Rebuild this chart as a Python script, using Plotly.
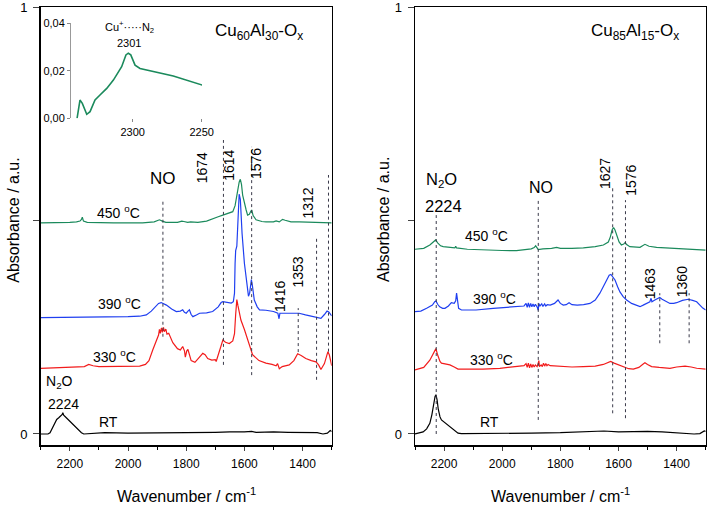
import plotly.graph_objects as go

# ---------------- data: left panel (Cu60Al30-Ox) ----------------
L_rt_x = [2300, 2275, 2268, 2255, 2245, 2238, 2230, 2226, 2224, 2221, 2212, 2195, 2175, 2160, 2152, 2100, 2080, 2000,
          1900, 1800, 1700, 1660, 1650, 1600, 1575, 1560, 1500, 1450, 1400, 1350, 1330, 1315, 1305, 1300]
L_rt_y = [0, 0, 0.003, 0.02, 0.034, 0.038, 0.042, 0.046, 0.05, 0.044, 0.038, 0.026, 0.012, 0.003, 0.0, 0.002, 0.003,
          0.002, 0.002, 0.003, 0.004, 0.006, 0.005, 0.005, 0.006, 0.004, 0.005, 0.004, 0.004, 0.003, 0.0, 0.002, 0.008, 0.006]

L_330_x = [2300, 2240, 2180, 2150, 2135, 2120, 2100, 2000, 1960, 1940, 1928, 1915, 1900, 1895, 1892, 1889, 1885, 1882,
           1878, 1875, 1870, 1866, 1860, 1846, 1830, 1820, 1812, 1806, 1803, 1798, 1794, 1788, 1783, 1770, 1760, 1743,
           1735, 1726, 1712, 1700, 1697, 1690, 1680, 1674, 1665, 1652, 1640, 1634, 1630, 1626, 1622, 1612, 1600, 1589,
           1580, 1572, 1550, 1526, 1505, 1491, 1486, 1480, 1470, 1446, 1430, 1417, 1405, 1389, 1370, 1354, 1345, 1337,
           1325, 1318, 1313, 1308, 1303, 1300]
L_330_y = [0.154, 0.156, 0.157, 0.158, 0.163, 0.160, 0.158, 0.158, 0.159, 0.163, 0.172, 0.197, 0.225, 0.232, 0.245,
           0.236, 0.249, 0.238, 0.250, 0.240, 0.246, 0.234, 0.236, 0.214, 0.200, 0.197, 0.205, 0.195, 0.180, 0.195,
           0.198, 0.185, 0.172, 0.168, 0.175, 0.189, 0.186, 0.177, 0.173, 0.174, 0.170, 0.185, 0.212, 0.220, 0.215,
           0.212, 0.218, 0.235, 0.280, 0.315, 0.300, 0.267, 0.245, 0.222, 0.205, 0.186, 0.172, 0.166, 0.163, 0.160,
           0.165, 0.153, 0.158, 0.162, 0.172, 0.188, 0.184, 0.177, 0.172, 0.169, 0.162, 0.151, 0.165, 0.185, 0.193,
           0.185, 0.170, 0.160]

L_390_x = [2300, 2200, 2100, 2000, 1960, 1937, 1920, 1905, 1895, 1886, 1878, 1868, 1850, 1834, 1820, 1812, 1806, 1800,
           1794, 1789, 1783, 1777, 1765, 1754, 1730, 1709, 1690, 1680, 1674, 1660, 1645, 1638, 1634, 1632, 1630, 1626,
           1622, 1618, 1614, 1608, 1600, 1592, 1586, 1582, 1578, 1576, 1572, 1566, 1556, 1548, 1526, 1500, 1485, 1481,
           1478, 1446, 1412, 1390, 1366, 1345, 1337, 1325, 1316, 1310, 1303, 1300]
L_390_y = [0.2726, 0.273, 0.274, 0.275, 0.276, 0.279, 0.288, 0.300, 0.306, 0.308, 0.305, 0.302, 0.293, 0.287, 0.288,
           0.291, 0.285, 0.283, 0.288, 0.291, 0.280, 0.275, 0.279, 0.283, 0.284, 0.287, 0.298, 0.308, 0.310, 0.309,
           0.307, 0.310, 0.330, 0.400, 0.430, 0.440, 0.500, 0.562, 0.550, 0.470, 0.400, 0.350, 0.323, 0.330, 0.355,
           0.362, 0.345, 0.314, 0.298, 0.291, 0.290, 0.287, 0.283, 0.270, 0.283, 0.283, 0.283, 0.279, 0.275, 0.272,
           0.271, 0.280, 0.288, 0.286, 0.279, 0.277]

L_450_x = [2300, 2250, 2200, 2177, 2165, 2160, 2157, 2153, 2140, 2050, 1950, 1910, 1892, 1882, 1870, 1830, 1815, 1808,
           1795, 1785, 1760, 1730, 1709, 1690, 1674, 1655, 1640, 1632, 1628, 1622, 1618, 1614, 1610, 1606, 1600, 1594,
           1589, 1583, 1578, 1575, 1570, 1560, 1540, 1526, 1500, 1491, 1480, 1469, 1460, 1440, 1412, 1380, 1354, 1320, 1300]
L_450_y = [0.495, 0.495, 0.496, 0.497, 0.499, 0.503, 0.508, 0.499, 0.496, 0.495, 0.495, 0.497, 0.502, 0.499, 0.496,
           0.496, 0.499, 0.498, 0.496, 0.497, 0.496, 0.499, 0.505, 0.509, 0.513, 0.517, 0.521, 0.535, 0.552, 0.575,
           0.590, 0.597, 0.585, 0.560, 0.540, 0.525, 0.513, 0.515, 0.522, 0.525, 0.512, 0.502, 0.498, 0.497, 0.497,
           0.4995, 0.497, 0.503, 0.501, 0.497, 0.497, 0.496, 0.495, 0.495, 0.495]

# inset (450 °C, N2 region)
ins_x = [2340.3, 2339, 2338.2, 2336.5, 2333.3, 2330.9, 2327.3, 2323.7, 2318.8, 2314, 2308, 2304.9, 2303.2, 2301.4,
         2298.3, 2294.7, 2289.9, 2270.6, 2249.6]
ins_y = [0.0, 0.006, 0.0077, 0.0063, 0.0017, 0.0028, 0.0077, 0.0098, 0.0126, 0.0161, 0.0217, 0.0267, 0.0274, 0.0267,
         0.0224, 0.0210, 0.0203, 0.0178, 0.0140]

# ---------------- data: right panel (Cu85Al15-Ox) ----------------
R_rt_x = [2300, 2285, 2272, 2260, 2249, 2242, 2236, 2231, 2228, 2224, 2220, 2214, 2209, 2195, 2180, 2165, 2152, 2140,
          2000, 1900, 1800, 1700, 1650, 1600, 1560, 1500, 1450, 1400, 1340, 1320, 1305, 1300]
R_rt_y = [0.0, 0.002, 0.005, 0.012, 0.025, 0.045, 0.07, 0.088, 0.092, 0.080, 0.058, 0.040, 0.033, 0.025, 0.017, 0.008,
          0.002, 0.001, 0.001, 0.002, 0.003, 0.005, 0.007, 0.005, 0.006, 0.006, 0.005, 0.003, 0.0, 0.001, 0.007, 0.006]

R_330_x = [2300, 2270, 2249, 2238, 2232, 2228, 2222, 2214, 2209, 2195, 2180, 2165, 2152, 2100, 2066, 2008, 1960, 1939,
           1925, 1918, 1914, 1910, 1906, 1902, 1898, 1894, 1890, 1886, 1880, 1876, 1874, 1872, 1866, 1862, 1858, 1854,
           1850, 1846, 1842, 1835, 1800, 1760, 1721, 1680, 1652, 1635, 1627, 1615, 1600, 1584, 1565, 1549, 1530, 1515,
           1509, 1500, 1486, 1460, 1423, 1400, 1371, 1350, 1331, 1300]
R_330_y = [0.150, 0.156, 0.173, 0.188, 0.198, 0.200, 0.185, 0.170, 0.166, 0.164, 0.162, 0.157, 0.152, 0.152, 0.152,
           0.154, 0.157, 0.158, 0.160, 0.165, 0.156, 0.166, 0.155, 0.164, 0.156, 0.163, 0.157, 0.162, 0.158, 0.166,
           0.172, 0.158, 0.162, 0.158, 0.166, 0.159, 0.165, 0.160, 0.163, 0.160, 0.158, 0.157, 0.158, 0.159, 0.163,
           0.168, 0.170, 0.166, 0.162, 0.158, 0.153, 0.152, 0.156, 0.164, 0.167, 0.163, 0.158, 0.156, 0.154, 0.157,
           0.159, 0.157, 0.154, 0.152]

R_390_x = [2300, 2280, 2260, 2240, 2232, 2228, 2222, 2215, 2205, 2197, 2185, 2175, 2165, 2160, 2157, 2154, 2150, 2140,
           2090, 2031, 1962, 1935, 1925, 1918, 1914, 1910, 1906, 1902, 1898, 1894, 1890, 1886, 1880, 1876, 1874, 1870,
           1864, 1860, 1854, 1850, 1845, 1835, 1820, 1808, 1800, 1790, 1780, 1770, 1760, 1742, 1720, 1698, 1680, 1664,
           1650, 1641, 1632, 1626, 1620, 1612, 1603, 1595, 1584, 1572, 1555, 1538, 1526, 1515, 1503, 1492, 1488, 1485,
           1475, 1465, 1458, 1450, 1440, 1423, 1410, 1400, 1380, 1360, 1345, 1331, 1320, 1310, 1300]
R_390_y = [0.2866, 0.288, 0.2945, 0.302, 0.310, 0.312, 0.304, 0.298, 0.2945, 0.2945, 0.300, 0.3077, 0.306, 0.312,
           0.330, 0.310, 0.2945, 0.2906, 0.2906, 0.2945, 0.2984, 0.300, 0.300, 0.306, 0.297, 0.307, 0.297, 0.306,
           0.298, 0.305, 0.298, 0.304, 0.298, 0.290, 0.306, 0.300, 0.305, 0.299, 0.305, 0.300, 0.303, 0.302, 0.306,
           0.314, 0.306, 0.302, 0.303, 0.3077, 0.303, 0.302, 0.303, 0.306, 0.314, 0.330, 0.350, 0.361, 0.372, 0.374,
           0.368, 0.361, 0.345, 0.333, 0.322, 0.314, 0.306, 0.302, 0.2984, 0.302, 0.306, 0.310, 0.318, 0.310, 0.314,
           0.318, 0.320, 0.316, 0.312, 0.306, 0.306, 0.3077, 0.313, 0.3157, 0.313, 0.310, 0.302, 0.295, 0.2906]

R_450_x = [2300, 2270, 2249, 2236, 2229, 2222, 2212, 2203, 2185, 2163, 2160, 2157, 2120, 2066, 2000, 1951, 1920, 1900,
           1890, 1885, 1880, 1876, 1860, 1830, 1813, 1800, 1760, 1721, 1680, 1652, 1635, 1628, 1622, 1617, 1612, 1605,
           1598, 1590, 1582, 1577, 1572, 1561, 1540, 1526, 1509, 1495, 1469, 1430, 1394, 1350, 1300]
R_450_y = [0.433, 0.435, 0.443, 0.450, 0.4547, 0.448, 0.441, 0.439, 0.437, 0.436, 0.440, 0.436, 0.433, 0.431, 0.430,
           0.4296, 0.432, 0.434, 0.437, 0.441, 0.436, 0.432, 0.434, 0.435, 0.4375, 0.435, 0.435, 0.436, 0.439, 0.443,
           0.450, 0.462, 0.478, 0.484, 0.478, 0.462, 0.450, 0.443, 0.445, 0.449, 0.444, 0.439, 0.4375, 0.4375, 0.4445,
           0.440, 0.4375, 0.436, 0.436, 0.434, 0.431]

# marker lines: (wavenumber, y_low, y_high)
L_marks = [(1880, 0.228, 0.546), (1672, 0.162, 0.689), (1575, 0.138, 0.673), (1311, 0.193, 0.607),
           (1352, 0.127, 0.459), (1415, 0.192, 0.295)]
R_marks = [(2227, 0.0, 0.513), (1876, 0.033, 0.55), (1620, 0.0485, 0.576), (1576, 0.037, 0.548),
           (1458, 0.2126, 0.33), (1357, 0.2126, 0.33)]

C_RT, C_330, C_390, C_450 = "#000000", "#f21c1c", "#1f3ff0", "#1b8a5c"
FONT = "Arial, Liberation Sans, sans-serif"

fig = go.Figure()

def line(x, y, color, xa, ya, w=1.2):
    fig.add_trace(go.Scatter(x=x, y=y, mode="lines", line=dict(color=color, width=w, shape="linear"),
                             xaxis=xa, yaxis=ya, showlegend=False, hoverinfo="skip"))

for (x, y, c) in [(L_rt_x, L_rt_y, C_RT), (L_330_x, L_330_y, C_330), (L_390_x, L_390_y, C_390), (L_450_x, L_450_y, C_450)]:
    line(x, y, c, "x", "y")
for (x, y, c) in [(R_rt_x, R_rt_y, C_RT), (R_330_x, R_330_y, C_330), (R_390_x, R_390_y, C_390), (R_450_x, R_450_y, C_450)]:
    line(x, y, c, "x2", "y2")
line(ins_x, ins_y, C_450, "x3", "y3", w=1.6)

for (v, a, b) in L_marks:
    fig.add_trace(go.Scatter(x=[v, v], y=[a, b], mode="lines", line=dict(color="#3a3a4a", width=1, dash="dot"),
                             xaxis="x", yaxis="y", showlegend=False, hoverinfo="skip"))
for (v, a, b) in R_marks:
    fig.add_trace(go.Scatter(x=[v, v], y=[a, b], mode="lines", line=dict(color="#3a3a4a", width=1, dash="dot"),
                             xaxis="x2", yaxis="y2", showlegend=False, hoverinfo="skip"))

W, H = 709, 507
ydom = [1 - 445 / H, 1 - 7.3 / H]
xcommon = dict(range=[2300, 1300], tickvals=[2200, 2000, 1800, 1600, 1400], ticks="outside", ticklen=4,
               tickwidth=1, showline=True, linecolor="black", linewidth=1.5, mirror=True, showgrid=False,
               zeroline=False, tickfont=dict(size=12, color="black"), ticklabelstandoff=3,
               ticklabeloverflow="allow",
               minor=dict(ticks="outside", dtick=100, tick0=0, ticklen=3, tickcolor="black", showgrid=False))
ycommon = dict(range=[-0.0258, 1], tickvals=[0, 0.5, 1], ticktext=["0", "", "1"], ticks="outside", ticklen=6,
               showline=True, linecolor="black", linewidth=1.5, mirror=True, showgrid=False, zeroline=False,
               tickfont=dict(size=13, color="black"), ticklabelstandoff=3, ticklabeloverflow="allow", domain=ydom)

fig.update_layout(
    width=W, height=H, margin=dict(l=0, r=0, t=0, b=0, autoexpand=False), paper_bgcolor="white", plot_bgcolor="white",
    font=dict(family=FONT, color="black"),
    xaxis=dict(domain=[40.7 / W, 331.7 / W], anchor="y", **xcommon),
    yaxis=dict(anchor="x", **ycommon),
    xaxis2=dict(domain=[415 / W, 705.7 / W], anchor="y2", **xcommon),
    yaxis2=dict(anchor="x2", **ycommon),
    xaxis3=dict(domain=[71 / W, 202 / W], anchor="y3", range=[2344.7, 2249.8], tickvals=[2300, 2250],
                ticks="outside", ticklen=3, tickcolor="#888", showline=False, showgrid=False, zeroline=False,
                ticklabeloverflow="allow", tickfont=dict(size=11, color="black")),
    yaxis3=dict(domain=[1 - 118.3 / H, 1 - 23.3 / H], anchor="x3", range=[0, 0.04], tickvals=[0, 0.02, 0.04],
                ticktext=["0,00", "0,02", "0,04"], ticks="outside", ticklen=3, tickcolor="#888", showline=True,
                linecolor="#999", linewidth=1, showgrid=False, zeroline=False, ticklabeloverflow="allow",
                tickfont=dict(size=11, color="black")),
)

ann = []
def txt(x, y, t, xr, yr, size=14, angle=0, yanchor="middle"):
    ann.append(dict(x=x, y=y, xref=xr, yref=yr, text=t, showarrow=False, textangle=angle,
                    font=dict(size=size, color="black", family=FONT), xanchor="center", yanchor=yanchor))

# left panel labels
txt(1880, 0.599, "NO", "x", "y", 17)
txt(1745, 0.623, "1674", "x", "y", 14, -90)
txt(1651, 0.630, "1614", "x", "y", 14, -90)
txt(1558, 0.634, "1576", "x", "y", 14, -90)
txt(1380, 0.541, "1312", "x", "y", 14, -90)
txt(1417, 0.380, "1353", "x", "y", 14, -90)
txt(1480, 0.322, "1416", "x", "y", 14, -90)
txt(2031, 0.521, "450 <sup>o</sup>C", "x", "y", 14)
txt(2029, 0.306, "390 <sup>o</sup>C", "x", "y", 14)
txt(2048, 0.183, "330 <sup>o</sup>C", "x", "y", 14)
txt(2234, 0.121, "N<sub>2</sub>O", "x", "y", 14)
txt(2223, 0.0703, "2224", "x", "y", 14)
txt(2066, 0.0288, "RT", "x", "y", 14)
# right panel labels
txt(2210, 0.595, "N<sub>2</sub>O", "x2", "y2", 16.5)
txt(2203, 0.534, "2224", "x2", "y2", 16.5)
txt(1865, 0.577, "NO", "x2", "y2", 16)
txt(1647, 0.611, "1627", "x2", "y2", 14, -90)
txt(1558, 0.595, "1576", "x2", "y2", 14, -90)
txt(1492, 0.353, "1463", "x2", "y2", 14, -90)
txt(1383, 0.357, "1360", "x2", "y2", 14, -90)
txt(2054, 0.466, "450 <sup>o</sup>C", "x2", "y2", 14)
txt(2025, 0.319, "390 <sup>o</sup>C", "x2", "y2", 14)
txt(2037, 0.176, "330 <sup>o</sup>C", "x2", "y2", 14)
txt(2043, 0.0288, "RT", "x2", "y2", 14)
# inset labels
txt(2302, 0.0385, "Cu<sup>+</sup>·····N<sub>2</sub>", "x3", "y3", 11)
txt(2303, 0.0318, "2301", "x3", "y3", 11)
# titles (paper coords)
txt(259 / W, 1 - 32 / H, "Cu<sub>60</sub>Al<sub>30</sub>-O<sub>x</sub>", "paper", "paper", 17)
txt(635 / W, 1 - 32 / H, "Cu<sub>85</sub>Al<sub>15</sub>-O<sub>x</sub>", "paper", "paper", 17)
txt(186 / W, 0.0, "Wavenumber / cm<sup>-1</sup>", "paper", "paper", 16, yanchor="bottom")
txt(560 / W, 0.0, "Wavenumber / cm<sup>-1</sup>", "paper", "paper", 16, yanchor="bottom")
txt(12.7 / W, 1 - 220 / H, "Absorbance / a.u.", "paper", "paper", 16, -90)
txt(383 / W, 1 - 220 / H, "Absorbance / a.u.", "paper", "paper", 16, -90)

fig.update_layout(annotations=ann)
fig.write_html("out.html", config={"displayModeBar": False, "staticPlot": True},
               post_script="document.body.style.margin='0';document.body.style.overflow='hidden';")
